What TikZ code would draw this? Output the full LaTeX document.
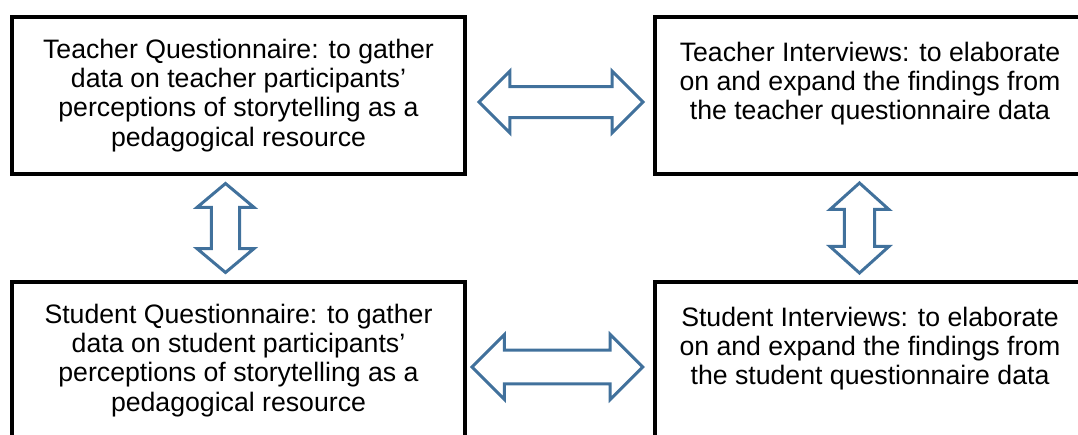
\documentclass[tikz,border=0pt]{standalone}
\usepackage{fontspec}
\setmainfont{Liberation Sans}
\usetikzlibrary{positioning,calc,shapes.arrows}
\definecolor{linkblue}{RGB}{65,113,156}

\begin{document}
\begin{tikzpicture}
		[
		block/.style={
		draw,
		rectangle,
		line width=3pt,
		outer sep=0pt,
		minimum height=117.75pt,
		align=center,
		font=\fontsize{20}{21.9}\selectfont},
		link/.style={
		draw=linkblue,
		double arrow,
		line width=2.25pt,
		inner xsep=0pt,
		outer sep=0pt,
		double arrow head extend=11.6pt}
		]
		\useasboundingbox (0,0) rectangle (808.5pt,326.25pt);
		\node[block,minimum width=339.75pt] (tq) at (178.875pt,254.625pt) {Teacher Questionnaire: to gather\\data on teacher participants’\\perceptions of storytelling as a\\pedagogical resource};
		\node[block,minimum width=322.5pt,right=142.5pt of tq] (ti) {Teacher Interviews: to elaborate\\on and expand the findings from\\the teacher questionnaire data\\ \mbox{}};
		\node[block,minimum width=339.75pt,below=81pt of tq] (sq) {Student Questionnaire: to gather\\data on student participants’\\perceptions of storytelling as a\\pedagogical resource};
		\node[block,minimum width=322.5pt,below=81pt of ti] (si) {Student Interviews: to elaborate\\on and expand the findings from\\the student questionnaire data\\ \mbox{}};

		% block arrows between the boxes
		\node[link,minimum height=123pt,inner ysep=10.5pt,xshift=0.75pt,yshift=-4.9pt] (tqti) at ($(tq.east)!.5!(ti.west)$) {};
		\node[link,minimum height=128pt,inner ysep=11.6pt,xshift=-2pt,yshift=-4.9pt] (sqsi) at ($(sq.east)!.5!(si.west)$) {};
		\node[link,xshift=-9.75pt,rotate=90,double arrow tip angle=100,double arrow head extend=10.9pt,minimum height=66.75pt,inner ysep=9.4pt] (tqsq) at ($(tq.south)!.5!(sq.north)$) {};
		\node[link,xshift=-7.9pt,rotate=90,double arrow tip angle=96,double arrow head extend=10.7pt,minimum height=67.5pt,inner ysep=10.25pt] (tisi) at ($(ti.south)!.5!(si.north)$) {};
		\end{tikzpicture}
\end{document}
